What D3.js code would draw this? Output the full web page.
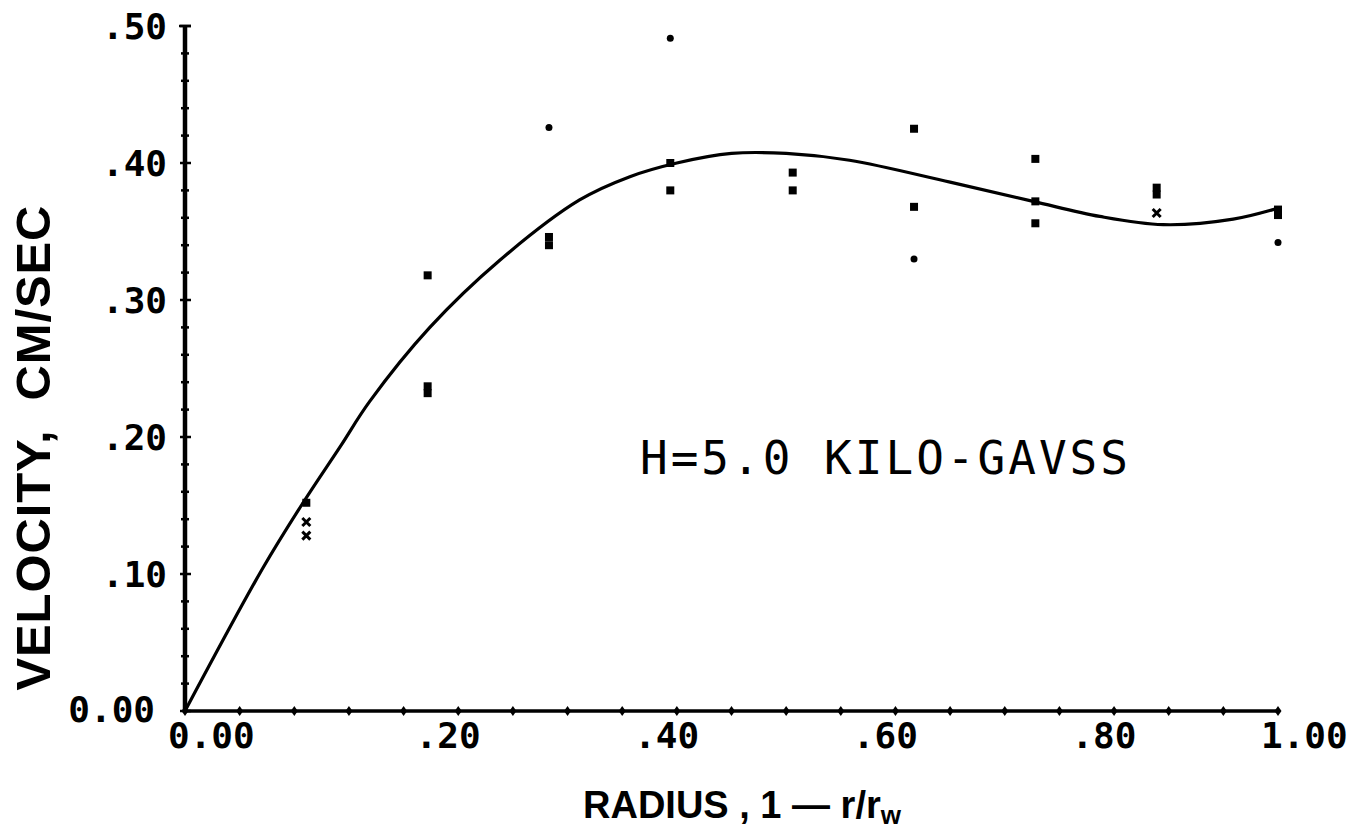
<!DOCTYPE html>
<html>
<head>
<meta charset="utf-8">
<script src="https://cdn.jsdelivr.net/npm/d3@7"></script>
<style>
  body { margin: 0; background: #fff; }
  .tick-label { font-family: "DejaVu Sans Mono", monospace; font-size: 36px; font-weight: bold; fill: #000; }
  .axis-title { font-family: "Liberation Sans", Arial, sans-serif; font-weight: bold; fill: #000; white-space: pre; }
  .note { font-family: "DejaVu Sans Mono", monospace; font-size: 46px; fill: #000; }
</style>
</head>
<body>
<script>
// measured points (radius, velocity) and mark type: s = square, x = cross, d = dot
var pointX = [0.111, 0.111, 0.111, 0.222, 0.222, 0.222, 0.333, 0.333, 0.333,
              0.444, 0.444, 0.444, 0.556, 0.556, 0.667, 0.667, 0.667,
              0.778, 0.778, 0.778, 0.889, 0.889, 0.889, 1.0, 1.0, 1.0];
var pointV = [0.152, 0.138, 0.128, 0.318, 0.237, 0.232, 0.426, 0.346, 0.340,
              0.491, 0.400, 0.380, 0.393, 0.380, 0.425, 0.368, 0.330,
              0.403, 0.372, 0.356, 0.382, 0.377, 0.3635, 0.366, 0.362, 0.342];
var pointMark = ["s", "x", "x", "s", "s", "s", "d", "s", "s",
                 "d", "s", "s", "s", "s", "s", "s", "d",
                 "s", "s", "s", "s", "s", "x", "s", "s", "d"];

// fitted curve
var curveX = [0, 0.071, 0.108, 0.142, 0.169, 0.224, 0.288, 0.361, 0.407, 0.45,
              0.5, 0.55, 0.608, 0.70, 0.776, 0.837, 0.895, 0.959, 1.0];
var curveV = [0, 0.104, 0.152, 0.193, 0.226, 0.280, 0.329, 0.373, 0.390, 0.400,
              0.407, 0.407, 0.402, 0.386, 0.372, 0.361, 0.355, 0.359, 0.367];

var xTicks = [0, 0.2, 0.4, 0.6, 0.8, 1.0];
var xTickLabels = ["0.00", ".20", ".40", ".60", ".80", "1.00"];
var yTicks = [0, 0.1, 0.2, 0.3, 0.4, 0.5];
var yTickLabels = ["0.00", ".10", ".20", ".30", ".40", ".50"];

var width = 1354, height = 832;
var margin = {top: 26, right: 76, bottom: 121, left: 185};

var svg = d3.select("body").append("svg")
    .attr("width", width)
    .attr("height", height);

var x = d3.scaleLinear().domain([0, 1]).range([margin.left, width - margin.right]);
var y = d3.scaleLinear().domain([0, 0.5]).range([height - margin.bottom, margin.top]);

// y axis line + ticks every .02
svg.append("line")
    .attr("x1", x(0)).attr("x2", x(0))
    .attr("y1", y(0.5)).attr("y2", y(0))
    .attr("stroke", "#000").attr("stroke-width", 4.5);
svg.append("line")
    .attr("x1", x(0) - 6).attr("x2", x(0) + 6)
    .attr("y1", y(0.5)).attr("y2", y(0.5))
    .attr("stroke", "#000").attr("stroke-width", 2.5);
svg.append("g").selectAll("line")
    .data(d3.range(0, 51, 2))
    .enter().append("line")
    .attr("x1", function (d) { return x(0) - (d % 10 == 0 ? 5 : 4); })
    .attr("x2", function (d) { return x(0) + (d % 10 == 0 ? 6 : 4); })
    .attr("y1", function (d) { return y(d / 100); })
    .attr("y2", function (d) { return y(d / 100); })
    .attr("stroke", "#000").attr("stroke-width", 2.5);

// x axis line + ticks every .05
svg.append("line")
    .attr("x1", x(0)).attr("x2", x(1))
    .attr("y1", y(0)).attr("y2", y(0))
    .attr("stroke", "#000").attr("stroke-width", 3.5);
svg.append("g").selectAll("path")
    .data(d3.range(0, 21))
    .enter().append("path")
    .attr("d", function (d) {
        var cx = x(d / 20), cy = y(0);
        return "M" + cx + "," + (cy - 5) + "L" + (cx + 3.5) + "," + cy + "L" + cx + "," + (cy + 5) + "L" + (cx - 3.5) + "," + cy + "Z";
    })
    .attr("fill", "#000");

// tick labels
svg.append("g").selectAll("text")
    .data(yTicks)
    .enter().append("text")
    .attr("class", "tick-label")
    .attr("x", function (d) { return d == 0 ? x(0) - 30 : x(0) - 18; })
    .attr("y", function (d) { return d == 0 ? y(d) - 2 : y(d); })
    .attr("text-anchor", "end")
    .attr("dominant-baseline", "central")
    .text(function (d, i) { return yTickLabels[i]; });

svg.append("g").selectAll("text")
    .data(xTicks)
    .enter().append("text")
    .attr("class", "tick-label")
    .attr("x", function (d, i) { return x(d) + (xTickLabels[i].length == 4 ? -17 : 12); })
    .attr("y", y(0) + 24)
    .attr("dominant-baseline", "central")
    .text(function (d, i) { return xTickLabels[i]; });

// fitted curve
var line = d3.line()
    .x(function (d, i) { return x(curveX[i]); })
    .y(function (d, i) { return y(curveV[i]); })
    .curve(d3.curveCatmullRom.alpha(0.5));

svg.append("path")
    .datum(curveV)
    .attr("d", line)
    .attr("fill", "none")
    .attr("stroke", "#000")
    .attr("stroke-width", 3.2);

// data marks
var marks = svg.append("g");
pointV.forEach(function (v, i) {
    var cx = x(pointX[i]), cy = y(v);
    if (pointMark[i] == "s") {
        marks.append("rect")
            .attr("x", cx - 4).attr("y", cy - 4)
            .attr("width", 8).attr("height", 8)
            .attr("fill", "#000");
    } else if (pointMark[i] == "d") {
        marks.append("circle")
            .attr("cx", cx).attr("cy", cy).attr("r", 3.5)
            .attr("fill", "#000");
    } else {
        marks.append("path")
            .attr("d", "M" + (cx - 4) + "," + (cy - 4) + "L" + (cx + 4) + "," + (cy + 4) +
                       "M" + (cx + 4) + "," + (cy - 4) + "L" + (cx - 4) + "," + (cy + 4))
            .attr("stroke", "#000").attr("stroke-width", 3);
    }
});

// annotation
svg.append("text")
    .attr("class", "note")
    .attr("x", 640)
    .attr("y", y(0.185))
    .attr("dominant-baseline", "central")
    .attr("textLength", 488)
    .text("H=5.0 KILO-GAVSS");

// axis titles
svg.append("text")
    .attr("class", "axis-title")
    .attr("transform", "translate(" + 50 + "," + 448 + ") rotate(-90)")
    .attr("text-anchor", "middle")
    .attr("font-size", 49)
    .attr("textLength", 485)
    .text("VELOCITY,  CM/SEC");

var xt = svg.append("text")
    .attr("class", "axis-title")
    .attr("x", 583)
    .attr("y", 818)
    .attr("font-size", 38);
xt.append("tspan").text("RADIUS , 1 \u2014 ");
xt.append("tspan").text("r/r");
xt.append("tspan").attr("font-size", 26).attr("dy", 6).text("w");
</script>
</body>
</html>
